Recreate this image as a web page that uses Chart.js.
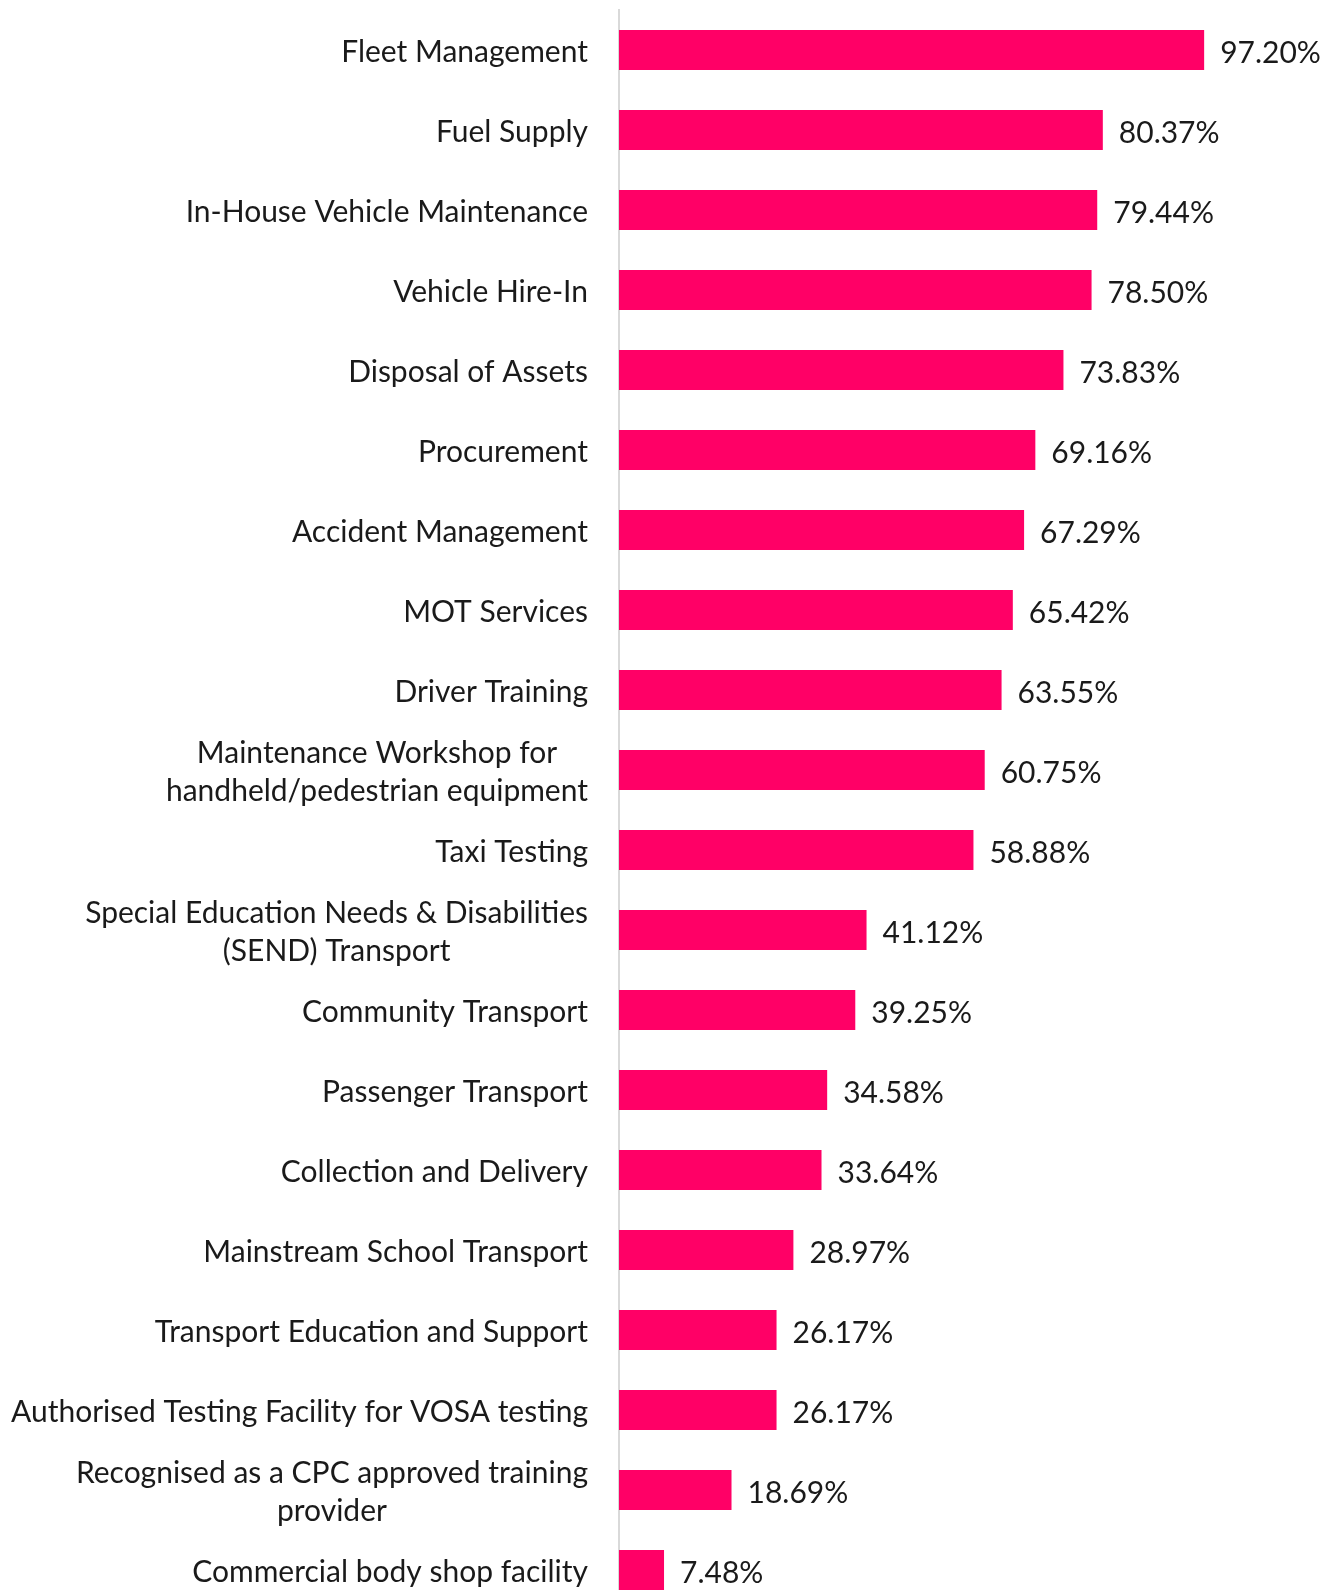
<!DOCTYPE html>
<html>
<head>
<meta charset="utf-8">
<script src="https://cdn.jsdelivr.net/npm/chart.js@4.4.0/dist/chart.umd.min.js"></script>
<style>
    html, body { margin: 0; padding: 0; background: #fff; overflow: hidden; }
    #wrap { width: 1332px; height: 1590px; overflow: hidden; }
</style>
</head>
<body>
<div id="wrap">
    <canvas id="servicesChart" width="1332" height="1620"></canvas>
</div>
<script>
// Services offered (share of respondents)
const categories = [
    "Fleet Management",
    "Fuel Supply",
    "In-House Vehicle Maintenance",
    "Vehicle Hire-In",
    "Disposal of Assets",
    "Procurement",
    "Accident Management",
    "MOT Services",
    "Driver Training",
    ["Maintenance Workshop for", "handheld/pedestrian equipment"],
    "Taxi Testing",
    ["Special Education Needs & Disabilities", "(SEND) Transport"],
    "Community Transport",
    "Passenger Transport",
    "Collection and Delivery",
    "Mainstream School Transport",
    "Transport Education and Support",
    "Authorised Testing Facility for VOSA testing",
    ["Recognised as a CPC approved training", "provider"],
    "Commercial body shop facility",
];
const values = [
    97.2, 80.37, 79.44, 78.5, 73.83, 69.16, 67.29, 65.42, 63.55, 60.75,
    58.88, 41.12, 39.25, 34.58, 33.64, 28.97, 26.17, 26.17, 18.69, 7.48,
];

const FONT = "30px Lato";
const TEXT_COLOR = "#1a1a1a";

// Category labels: block right-aligned to the axis, lines centred within the block
const categoryLabels = {
    id: "categoryLabels",
    afterDraw(chart) {
        const ctx = chart.ctx;
        const yScale = chart.scales.y;
        const right = yScale.right - 31;
        const lineHeight = 38;
        ctx.save();
        ctx.font = FONT;
        ctx.fillStyle = TEXT_COLOR;
        ctx.textAlign = "center";
        ctx.textBaseline = "middle";
        categories.forEach((label, i) => {
            const lines = Array.isArray(label) ? label : [label];
            const widest = Math.max(...lines.map((l) => ctx.measureText(l).width));
            const cx = right - widest / 2;
            const y0 = yScale.getPixelForValue(i) + 2 - ((lines.length - 1) * lineHeight) / 2;
            lines.forEach((line, j) => {
                ctx.fillText(line, cx, y0 + j * lineHeight);
            });
        });
        ctx.restore();
    },
};

// Value labels at the end of each bar
const valueLabels = {
    id: "valueLabels",
    afterDatasetsDraw(chart) {
        const ctx = chart.ctx;
        const meta = chart.getDatasetMeta(0);
        ctx.save();
        ctx.font = FONT;
        ctx.fillStyle = TEXT_COLOR;
        ctx.textAlign = "left";
        ctx.textBaseline = "middle";
        meta.data.forEach((bar, i) => {
            ctx.fillText(values[i].toFixed(2) + "%", bar.x + 16, bar.y + 3);
        });
        ctx.restore();
    },
};

new Chart(document.getElementById("servicesChart"), {
    type: "bar",
    data: {
        labels: categories,
        datasets: [
            {
                data: values,
                backgroundColor: "#ff0066",
                borderWidth: 0,
                barPercentage: 0.5,
                categoryPercentage: 1,
            },
        ],
    },
    options: {
        indexAxis: "y",
        responsive: false,
        devicePixelRatio: 1,
        animation: false,
        layout: {
            padding: { top: 10, right: 111, bottom: 10, left: 0 },
        },
        plugins: {
            legend: { display: false },
            tooltip: { enabled: false },
        },
        scales: {
            x: {
                display: false,
                min: 0,
                max: 100,
            },
            y: {
                grid: { display: false, drawTicks: false },
                border: { display: true, color: "#d9d9d9", width: 2 },
                ticks: { display: false },
                afterFit(scale) {
                    scale.width = 619;
                },
            },
        },
    },
    plugins: [categoryLabels, valueLabels],
});
</script>
</body>
</html>
